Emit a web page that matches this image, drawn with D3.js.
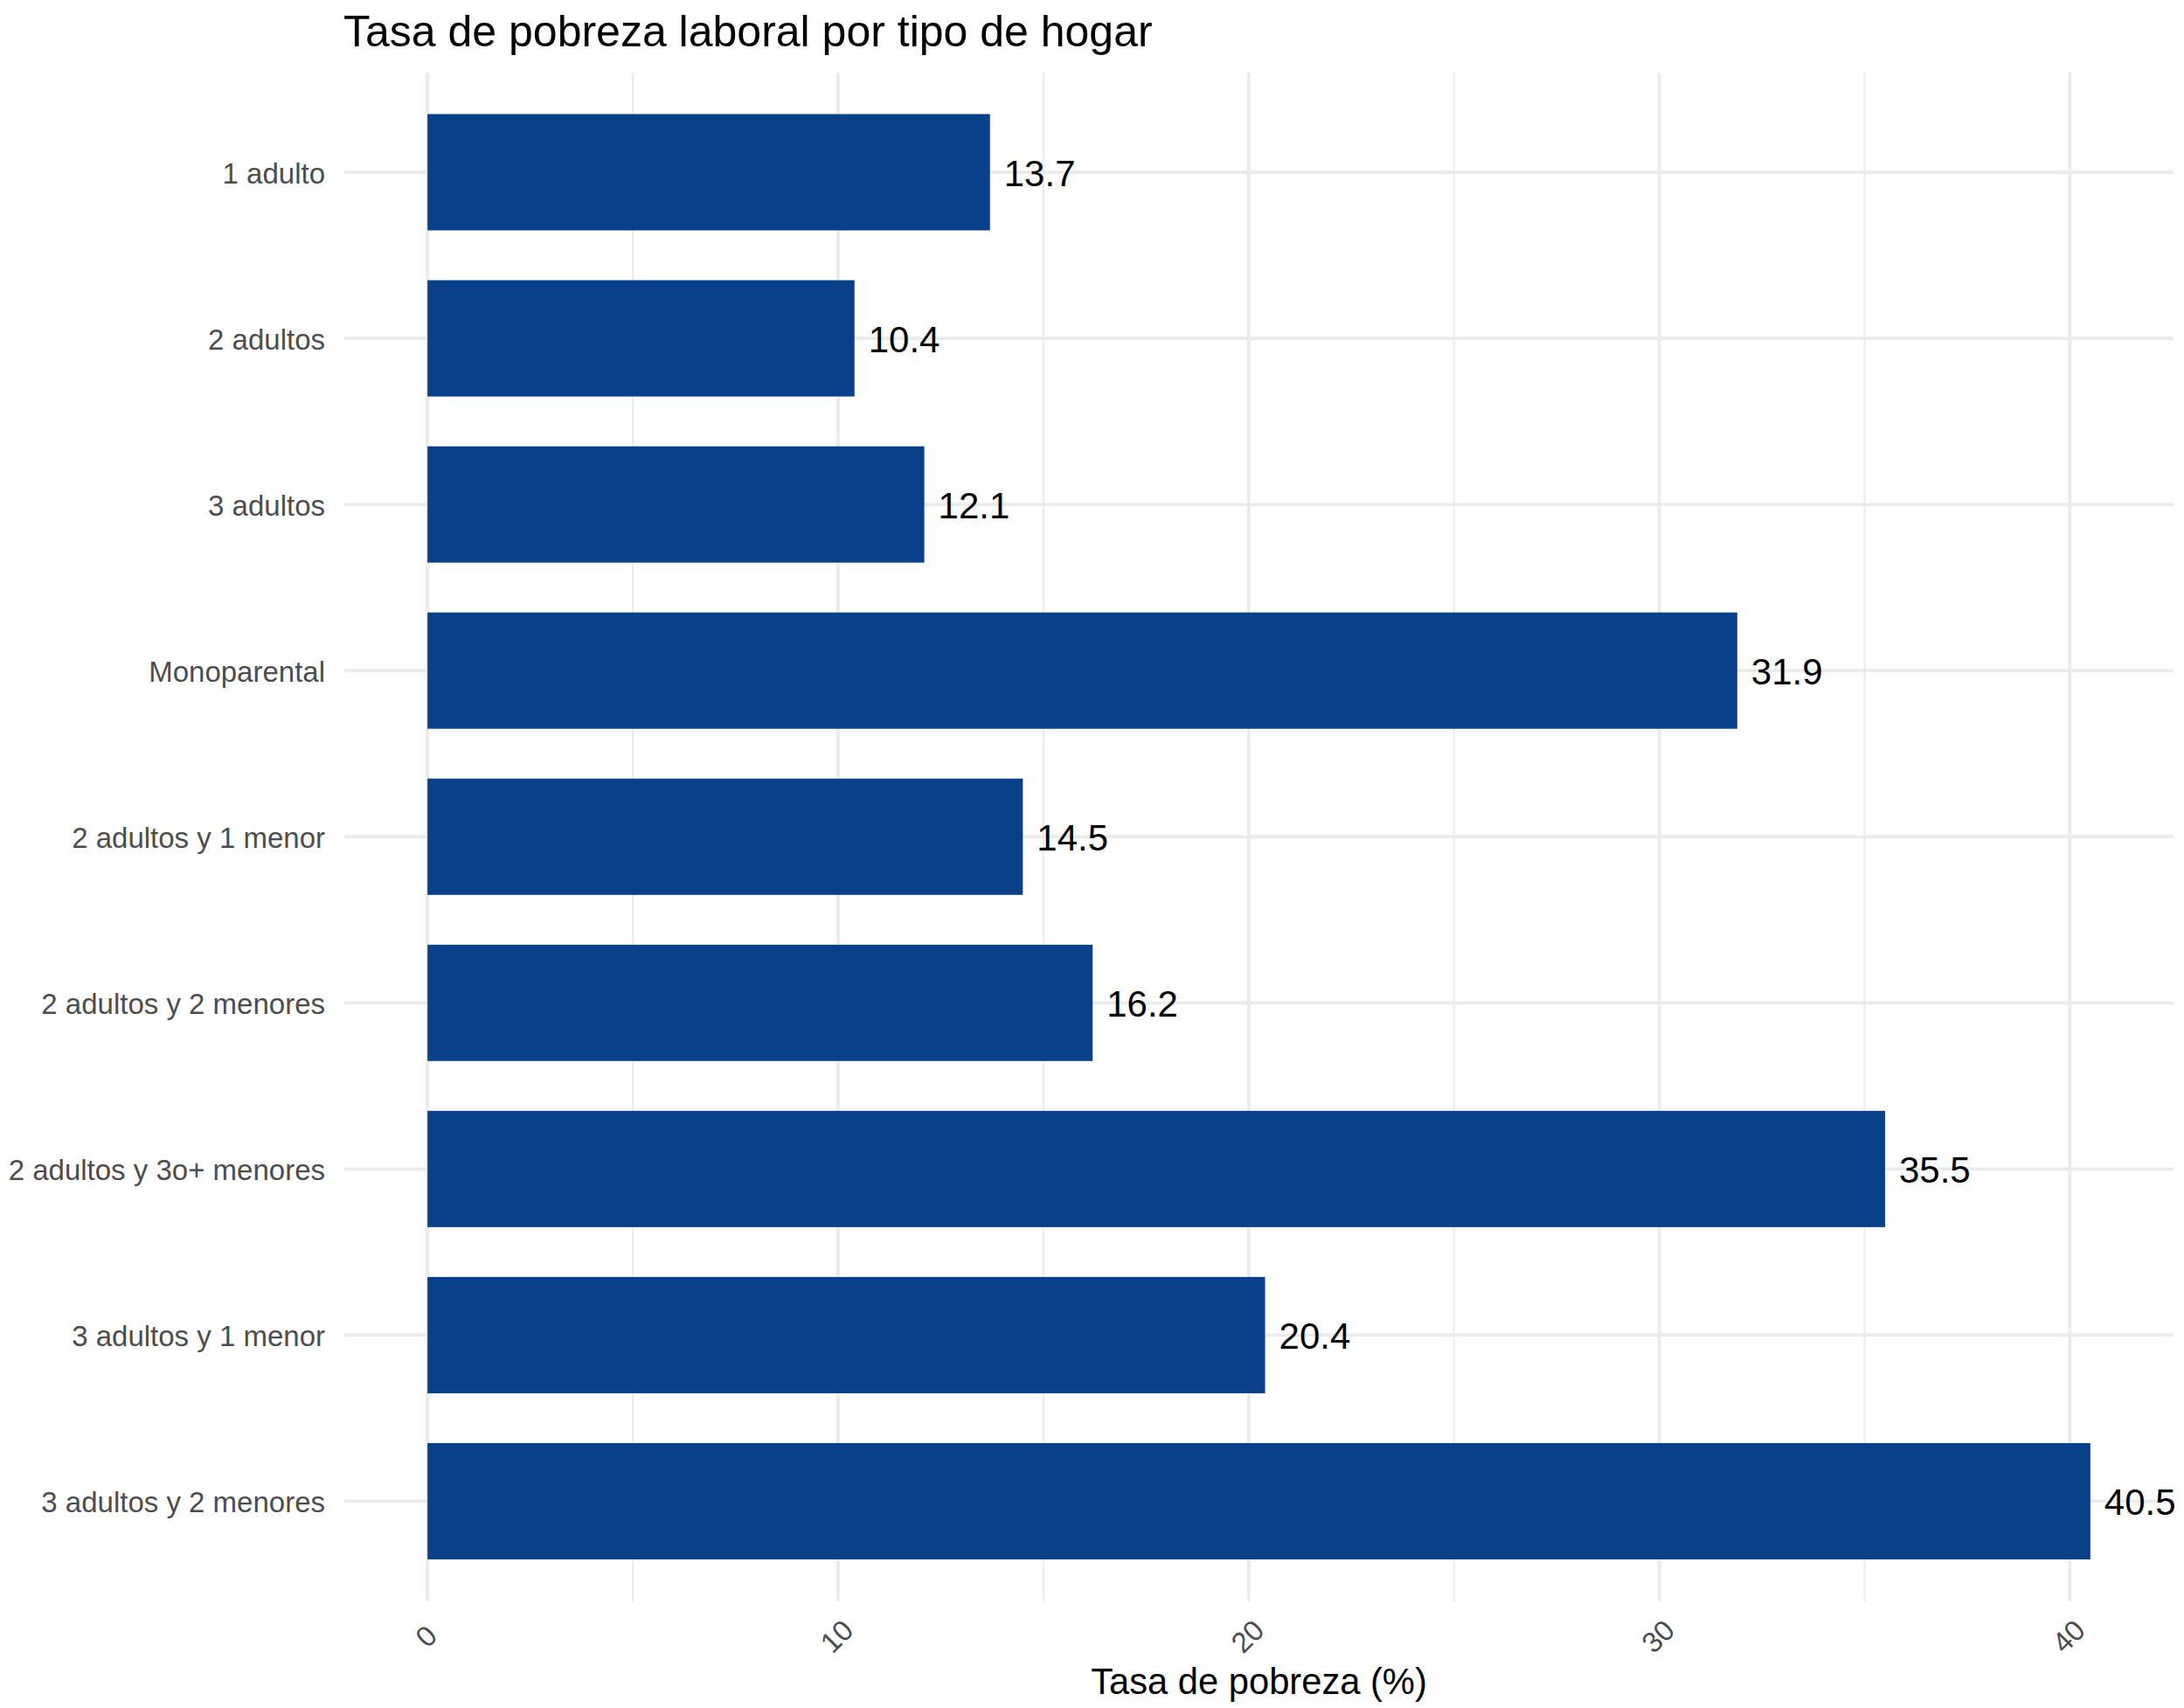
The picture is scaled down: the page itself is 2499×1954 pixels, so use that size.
<!DOCTYPE html>
<html>
<head>
<meta charset="utf-8">
<script src="https://cdn.jsdelivr.net/npm/d3@7"></script>
<style>
  html, body { margin: 0; padding: 0; background: #ffffff; }
  svg { display: block; }
  text { font-family: "Liberation Sans", Arial, Helvetica, sans-serif; }
</style>
</head>
<body>
<script>
const categories = ["1 adulto", "2 adultos", "3 adultos", "Monoparental", "2 adultos y 1 menor",
  "2 adultos y 2 menores", "2 adultos y 3o+ menores", "3 adultos y 1 menor", "3 adultos y 2 menores"];
const values = [13.7, 10.4, 12.1, 31.9, 14.5, 16.2, 35.5, 20.4, 40.5];
const valueLabels = ["13.7", "10.4", "12.1", "31.9", "14.5", "16.2", "35.5", "20.4", "40.5"];
const majorTicks = [0, 10, 20, 30, 40];
const minorTicks = [5, 15, 25, 35];
const titleText = "Tasa de pobreza laboral por tipo de hogar";
const xTitle = "Tasa de pobreza (%)";

const W = 2499, H = 1954;
const panel = { left: 394, right: 2487, top: 83, bottom: 1831.5 };

const svg = d3.select("body").append("svg").attr("width", W).attr("height", H);

const x = d3.scaleLinear().domain([-2.025, 42.525]).range([panel.left, panel.right]);
const y = d3.scaleBand().domain(categories).range([panel.top, panel.bottom])
  .paddingInner(0.3).paddingOuter(0.25);

const grid = svg.append("g");
grid.selectAll("line.minor").data(minorTicks).join("line")
  .attr("x1", d => x(d)).attr("x2", d => x(d))
  .attr("y1", panel.top).attr("y2", panel.bottom)
  .attr("stroke", "#ebebeb").attr("stroke-width", 2);
grid.selectAll("line.major").data(majorTicks).join("line")
  .attr("x1", d => x(d)).attr("x2", d => x(d))
  .attr("y1", panel.top).attr("y2", panel.bottom)
  .attr("stroke", "#ebebeb").attr("stroke-width", 3.8);
grid.selectAll("line.hmajor").data(categories).join("line")
  .attr("x1", panel.left).attr("x2", panel.right)
  .attr("y1", d => y(d) + y.bandwidth() / 2).attr("y2", d => y(d) + y.bandwidth() / 2)
  .attr("stroke", "#ebebeb").attr("stroke-width", 3.8);

svg.append("g").selectAll("rect").data(values).join("rect")
  .attr("x", x(0))
  .attr("y", (d, i) => y(categories[i]))
  .attr("width", d => x(d) - x(0))
  .attr("height", y.bandwidth())
  .attr("fill", "#08418a");

svg.append("g").selectAll("text").data(values).join("text")
  .attr("x", d => x(d) + 16)
  .attr("y", (d, i) => y(categories[i]) + y.bandwidth() / 2 + 15.5)
  .attr("font-size", 42)
  .attr("fill", "#000000")
  .text((d, i) => valueLabels[i]);

// y axis labels
const yAxis = d3.axisLeft(y).tickSize(0).tickPadding(0);
const yg = svg.append("g").attr("transform", `translate(372,0)`).call(yAxis);
yg.select(".domain").remove();
yg.selectAll("text")
  .attr("font-size", 33)
  .attr("fill", "#4d4d4d")
  .attr("font-family", "\"Liberation Sans\", Arial, sans-serif")
  .attr("x", 0).attr("dy", null).attr("dominant-baseline", null)
  .attr("y", 13);

// x axis labels
const xAxis = d3.axisBottom(x).tickValues(majorTicks).tickSize(0).tickFormat(d3.format("d"));
const xg = svg.append("g").attr("transform", `translate(0,1872)`).call(xAxis);
xg.select(".domain").remove();
xg.selectAll(".tick text")
  .attr("font-size", 33)
  .attr("fill", "#4d4d4d")
  .attr("font-family", "\"Liberation Sans\", Arial, sans-serif")
  .attr("y", 0).attr("dy", null)
  .attr("text-anchor", "middle")
  .attr("dominant-baseline", "central")
  .attr("transform", "translate(-2,0) rotate(-45)");

svg.append("text")
  .attr("x", 393).attr("y", 53)
  .attr("font-size", 50)
  .attr("fill", "#000000")
  .text(titleText);

svg.append("text")
  .attr("x", (panel.left + panel.right) / 2).attr("y", 1938)
  .attr("text-anchor", "middle")
  .attr("font-size", 41.7)
  .attr("fill", "#000000")
  .text(xTitle);
</script>
</body>
</html>
